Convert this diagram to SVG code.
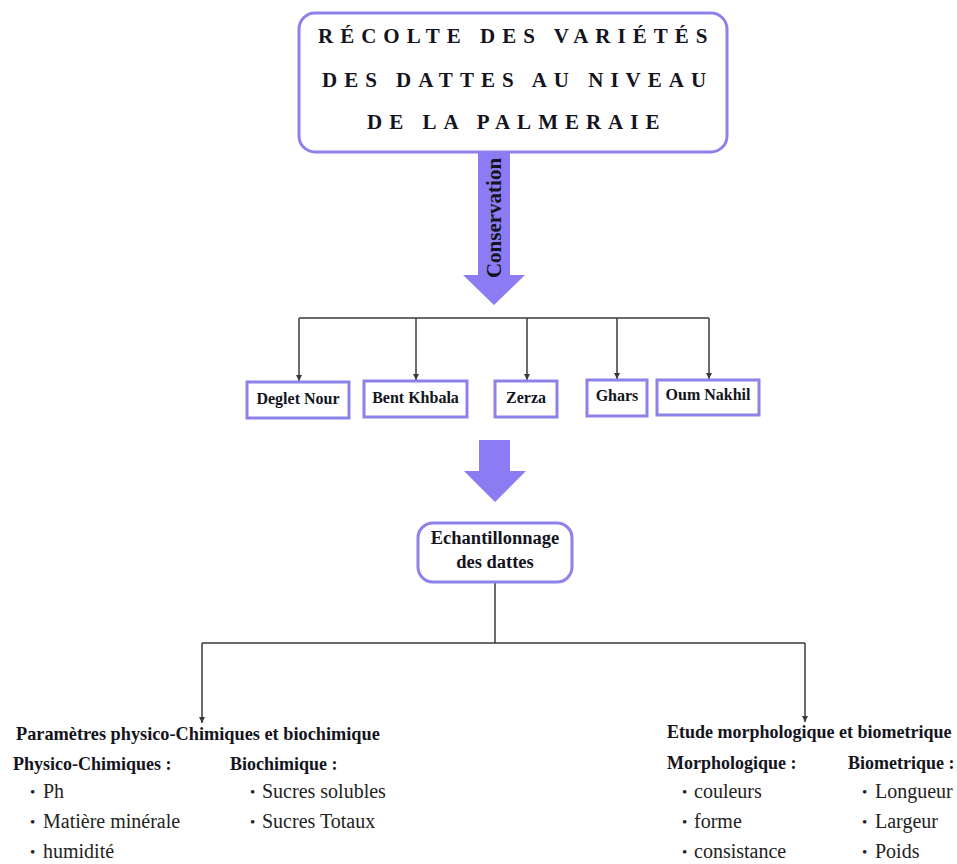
<svg xmlns="http://www.w3.org/2000/svg" width="957" height="864" viewBox="0 0 957 864">
<defs>
<style>
.box{fill:#fff;stroke:#8c82ea;stroke-width:3}
.bigarrow{fill:#8b7cf3}
.conn{fill:none;stroke:#3a3a3a;stroke-width:1.5}
.title{font-family:"Liberation Serif","Times New Roman",serif;font-weight:bold;font-size:21px;letter-spacing:7px;fill:#141420}
.lbl{font-family:"Liberation Serif","Times New Roman",serif;font-weight:bold;font-size:16px;fill:#141420;text-anchor:middle}
.lbl2{font-family:"Liberation Serif","Times New Roman",serif;font-weight:bold;font-size:18.5px;fill:#141420;text-anchor:middle}
.hd{font-family:"Liberation Serif","Times New Roman",serif;font-weight:bold;font-size:18px;fill:#141420}
.it{font-family:"Liberation Serif","Times New Roman",serif;font-size:20px;fill:#222}
.bl{font-family:"Liberation Serif","Times New Roman",serif;font-size:15px;fill:#222}
</style>
<marker id="ah" viewBox="0 0 6 6" refX="6" refY="3" markerWidth="6" markerHeight="6" markerUnits="userSpaceOnUse" orient="auto">
<path d="M0,0 L6,3 L0,6 z" fill="#3a3a3a"/>
</marker>
</defs>
<rect width="957" height="864" fill="#fff"/>

<g id="recolte">
<rect class="box" x="299" y="13" width="428" height="139" rx="16"/>
<text class="title" x="318" y="43">RÉCOLTE DES VARIÉTÉS</text>
<text class="title" x="322" y="87">DES DATTES AU NIVEAU</text>
<text class="title" x="367" y="129">DE LA PALMERAIE</text>
</g>

<g id="conservation-arrow">
<path class="bigarrow" d="M478,152 H510 V275 H525 L494,305 L463,275 H478 Z"/>
<text class="lbl" style="font-size:21px" transform="translate(501,218) rotate(-90)">Conservation</text>
</g>

<g id="connectors">
<path class="conn" d="M299,318 H709"/>
<path class="conn" d="M299,318 V381" marker-end="url(#ah)"/>
<path class="conn" d="M416,318 V380" marker-end="url(#ah)"/>
<path class="conn" d="M527,318 V380" marker-end="url(#ah)"/>
<path class="conn" d="M617,318 V379" marker-end="url(#ah)"/>
<path class="conn" d="M709,318 V379" marker-end="url(#ah)"/>
<path class="conn" d="M495,582 V643"/>
<path class="conn" d="M202,643 H805"/>
<path class="conn" d="M202,643 V723" marker-end="url(#ah)"/>
<path class="conn" d="M805,643 V722" marker-end="url(#ah)"/>
</g>

<g id="deglet-nour">
<rect class="box" x="247" y="382" width="102" height="36"/>
<text class="lbl" x="298" y="404">Deglet Nour</text>
</g>
<g id="bent-khbala">
<rect class="box" x="364" y="381" width="103" height="36"/>
<text class="lbl" x="415.5" y="403">Bent Khbala</text>
</g>
<g id="zerza">
<rect class="box" x="495" y="381" width="62" height="36"/>
<text class="lbl" x="526" y="403">Zerza</text>
</g>
<g id="ghars">
<rect class="box" x="587" y="380" width="60" height="36"/>
<text class="lbl" x="617" y="401">Ghars</text>
</g>
<g id="oum-nakhil">
<rect class="box" x="657" y="380" width="102" height="35"/>
<text class="lbl" x="708" y="400">Oum Nakhil</text>
</g>

<g id="arrow2">
<path class="bigarrow" d="M479,440 H510 V471 H526 L495,502 L464,471 H479 Z"/>
</g>

<g id="echantillonnage">
<rect class="box" x="418" y="523" width="154" height="59" rx="15"/>
<text class="lbl2" x="495" y="544">Echantillonnage</text>
<text class="lbl2" x="495" y="568">des dattes</text>
</g>

<g id="physico-chimiques">
<text class="hd" style="font-size:18.3px" x="16" y="740">Paramètres physico-Chimiques et biochimique</text>
<text class="hd" x="13" y="770">Physico-Chimiques :</text>
<text class="hd" x="230" y="770">Biochimique :</text>
<text class="bl" x="30" y="797">•</text><text class="it" x="43" y="798">Ph</text>
<text class="bl" x="30" y="827">•</text><text class="it" x="43" y="828">Matière minérale</text>
<text class="bl" x="30" y="857">•</text><text class="it" x="43" y="858">humidité</text>
<text class="bl" x="250" y="797">•</text><text class="it" x="262" y="798">Sucres solubles</text>
<text class="bl" x="250" y="827">•</text><text class="it" x="262" y="828">Sucres Totaux</text>
</g>

<g id="morphologique">
<text class="hd" x="667" y="738">Etude morphologique et biometrique</text>
<text class="hd" x="667" y="769">Morphologique :</text>
<text class="hd" x="848" y="769">Biometrique :</text>
<text class="bl" x="682" y="797">•</text><text class="it" x="694" y="798">couleurs</text>
<text class="bl" x="682" y="827">•</text><text class="it" x="694" y="828">forme</text>
<text class="bl" x="682" y="857">•</text><text class="it" x="694" y="858">consistance</text>
<text class="bl" x="862" y="797">•</text><text class="it" x="875" y="798">Longueur</text>
<text class="bl" x="862" y="827">•</text><text class="it" x="875" y="828">Largeur</text>
<text class="bl" x="862" y="857">•</text><text class="it" x="875" y="858">Poids</text>
</g>
</svg>
